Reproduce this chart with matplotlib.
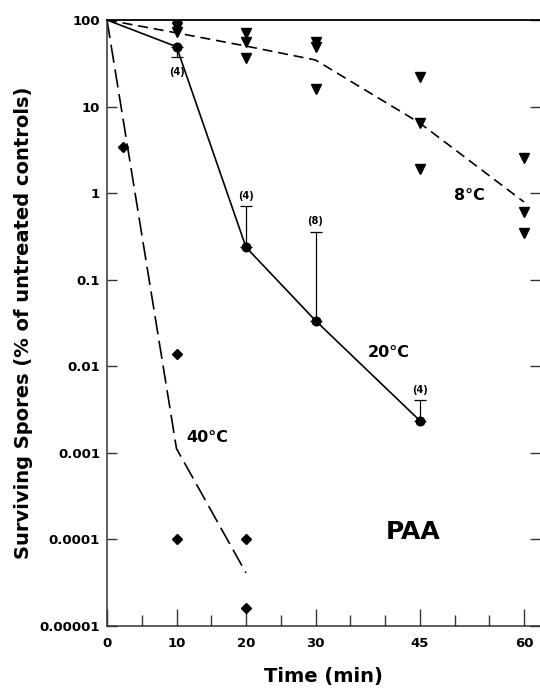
import matplotlib
matplotlib.use("Agg")
import matplotlib.pyplot as plt
import matplotlib.ticker as mticker

# 20 C - means with upper error bars (n in brackets)
t20 = [0, 10, 20, 30, 45]
mean20 = [100, 49.2, 0.237, 0.0337, 0.00236]
upper20 = [100, 49.2, 0.718, 0.36, 0.00405]
lower20 = [100, 37.1, 0.237, 0.0337, 0.00236]
n20 = ["", "(4)", "(4)", "(8)", "(4)"]
nlabel_y20 = [None, 25.2, 0.93, 0.48, 0.00533]

# 8 C - individual points and fitted line
t8_pts = [10, 10, 10, 20, 20, 20, 30, 30, 30, 45, 45, 45, 60, 60, 60]
v8_pts = [92, 83, 72.7, 70.8, 55.7, 36.4, 55.7, 48.8, 15.9, 21.9, 6.46, 1.9, 2.56, 0.6, 0.35]
t8_line = [0, 10, 20, 30, 45, 60]
v8_line = [100, 71, 50, 34.5, 6.46, 0.79]

# 40 C - individual points and fitted line
t40_pts = [2.3, 10, 10, 20, 20]
v40_pts = [3.44, 0.0139, 0.0001, 0.0001, 1.61e-5]
t40_line = [0, 10, 20]
v40_line = [100, 0.00112, 4.1e-5]

xticks = [0, 10, 20, 30, 45, 60]
xminor = [5, 15, 25, 35, 40, 50, 55]
yticks = [100, 10, 1, 0.1, 0.01, 0.001, 0.0001, 0.00001]
ylabels = ["100", "10", "1", "0.1", "0.01", "0.001", "0.0001", "0.00001"]

plt.rcParams['font.family'] = 'DejaVu Sans'
plt.rcParams['font.weight'] = 'bold'

fig = plt.figure(figsize=(5.4, 6.89), dpi=100)
ax = fig.add_axes([107/540, 1-626/689, (540-107)/540, (626-20)/689])

ax.set_yscale('log')
ax.set_xlim(0, 62.3)
ax.set_ylim(1e-5, 100)

# 20 C
ax.plot(t20, mean20, '-', color='black', lw=1.2, marker='o', ms=6.2,
        markevery=[1, 2, 3, 4], zorder=3)
yerr_lo = [m - l for m, l in zip(mean20, lower20)]
yerr_hi = [u - m for m, u in zip(mean20, upper20)]
ax.errorbar(t20[1:], mean20[1:], yerr=[yerr_lo[1:], yerr_hi[1:]], fmt='none',
            ecolor='black', elinewidth=0.9, capsize=4.5, capthick=0.9)
for t, lab, y in zip(t20, n20, nlabel_y20):
    if lab:
        ax.text(t, y, lab, fontsize=7, fontweight='bold', ha='center', va='center')

# 8 C
ax.plot(t8_line, v8_line, color='black', lw=1.2, dashes=(6, 3.5))
ax.plot(t8_pts, v8_pts, 'v', color='black', ms=6.5, ls='none')

# 40 C
ax.plot(t40_line, v40_line, color='black', lw=1.2, dashes=(11, 4))
ax.plot(t40_pts, v40_pts, 'D', color='black', ms=5.2, ls='none')

ax.text(40.6, 0.0143, "20\u00b0C", fontsize=11.5, fontweight='bold', ha='center', va='center')
ax.text(14.5, 0.00149, "40\u00b0C", fontsize=11.5, fontweight='bold', ha='center', va='center')
ax.text(52.2, 0.95, "8\u00b0C", fontsize=11.5, fontweight='bold', ha='center', va='center')
ax.text(44, 1.22e-4, "PAA", fontsize=18, fontweight='bold', ha='center', va='center')

# axes / ticks
ax.set_xticks(xticks)
ax.set_xticks(xminor, minor=True)
ax.set_xticklabels([str(x) for x in xticks])
ax.set_yticks(yticks)
ax.set_yticklabels(ylabels)
ax.yaxis.set_minor_locator(mticker.NullLocator())

ax.tick_params(axis='x', which='major', direction='in', length=12, width=1,
               pad=8, labelsize=9.5, color='#333333')
ax.tick_params(axis='x', which='minor', direction='in', length=8, width=1,
               color='#333333')
ax.tick_params(axis='y', which='major', direction='in', length=7, width=1,
               pad=5, labelsize=9.5, right=True, color='#333333')
for lab in ax.get_xticklabels() + ax.get_yticklabels():
    lab.set_fontweight('bold')

for s in ['left', 'bottom']:
    ax.spines[s].set_color('#333333')
    ax.spines[s].set_linewidth(1.1)
ax.spines['right'].set_visible(False)
ax.spines['top'].set_color('black')
ax.spines['top'].set_linewidth(1.3)

ax.set_xlabel("Time (min)", fontsize=14, fontweight='bold', labelpad=12)
ax.set_ylabel("Surviving Spores (% of untreated controls)", fontsize=14,
              fontweight='bold', labelpad=5)

fig.savefig("out.png", dpi=100)
